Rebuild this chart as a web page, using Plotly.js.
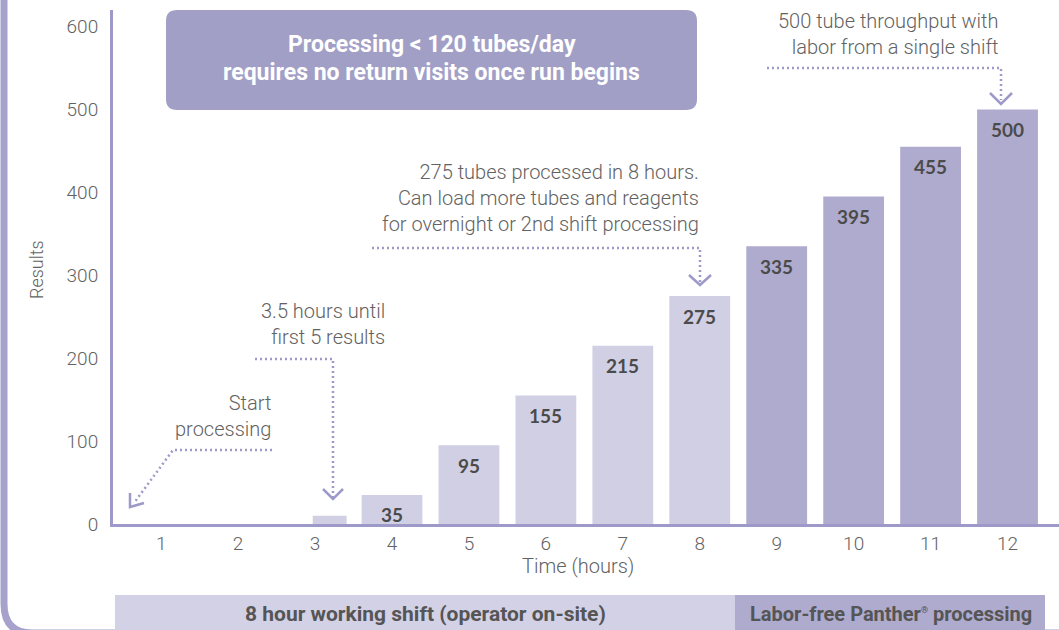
<!DOCTYPE html>
<html>
<head>
<meta charset="utf-8">
<script src="https://cdn.plot.ly/plotly-3.0.1.min.js"></script>
<style>html,body{margin:0;padding:0;background:#fff;}#chart{width:1059px;height:630px;}</style>
</head>
<body>
<div id="chart"></div>
<script>
// ---- data ----
const hourTicks = [1,2,3,4,5,6,7,8,9,10,11,12];
const shiftHours = [4,5,6,7,8];
const shiftResults = [35,95,155,215,275];
const laborFreeHours = [9,10,11,12];
const laborFreeResults = [335,395,455,500];
const firstResultHour = [3.19];
const firstResultValue = [10];
const yTicks = [0,100,200,300,400,500,600];

// ---- geometry helpers (pixel -> paper) ----
const W = 1059, H = 630;
const L = 113, R = 1059, T = 10, B = 524;
const px = x => (x - L) / (R - L);
const py = y => (B - y) / (B - T);
const P = (x, y) => px(x).toFixed(5) + ',' + py(y).toFixed(5);

const purple = '#9d99c9';
const lightBar = '#d1cfe4';
const darkBar = '#afabcf';
const greyText = '#626262';
const labelText = '#4b4b4b';

const barW = 0.79;
const traces = [
  {type:'bar', x: shiftHours, y: shiftResults, width: barW, marker:{color: lightBar, line:{width:0}}, hoverinfo:'skip'},
  {type:'bar', x: laborFreeHours, y: laborFreeResults, width: barW, marker:{color: darkBar, line:{width:0}}, hoverinfo:'skip'},
  {type:'bar', x: firstResultHour, y: firstResultValue, width: 0.44, marker:{color: lightBar, line:{width:0}}, hoverinfo:'skip'}
];

// rounded rectangle path in pixels
function roundRect(x0, y0, x1, y1, r) {
  return 'M' + P(x0 + r, y0) + ' L' + P(x1 - r, y0) + ' Q' + P(x1, y0) + ' ' + P(x1, y0 + r) +
    ' L' + P(x1, y1 - r) + ' Q' + P(x1, y1) + ' ' + P(x1 - r, y1) +
    ' L' + P(x0 + r, y1) + ' Q' + P(x0, y1) + ' ' + P(x0, y1 - r) +
    ' L' + P(x0, y0 + r) + ' Q' + P(x0, y0) + ' ' + P(x0 + r, y0) + ' Z';
}
function dotted(pts) {
  return {type:'path', xref:'paper', yref:'paper', layer:'above',
    path: 'M' + pts.map(p => P(p[0], p[1])).join(' L'),
    line:{color: purple, width: 2.5, dash:'2px,3px'}};
}
function chevron(pts) {
  return {type:'path', xref:'paper', yref:'paper', layer:'above',
    path: 'M' + pts.map(p => P(p[0], p[1])).join(' L'),
    line:{color: purple, width: 2.5}};
}

const shapes = [
  // outer frame on the left
  {type:'path', xref:'paper', yref:'paper', layer:'below',
   path: 'M' + P(4, -10) + ' L' + P(4, 604) + ' Q' + P(4, 633) + ' ' + P(32, 633) + ' L' + P(1100, 633),
   line:{color:'#a6a2cc', width:7}},
  // title box
  {type:'path', xref:'paper', yref:'paper', layer:'below', path: roundRect(166, 10, 697, 110, 11),
   fillcolor:'#a29fc6', line:{width:0}},
  // bottom bands
  {type:'rect', xref:'paper', yref:'paper', layer:'above', x0:px(115), x1:px(735), y0:py(640), y1:py(595),
   fillcolor:'#d3d1e5', line:{width:0}},
  {type:'rect', xref:'paper', yref:'paper', layer:'above', x0:px(735), x1:px(1045), y0:py(640), y1:py(595),
   fillcolor:'#afabcf', line:{width:0}},
  // arrows
  dotted([[272,450],[173,450],[134,503]]),
  chevron([[130,493],[130,507],[144,503]]),
  dotted([[255,359],[333,359],[333,497]]),
  chevron([[323,489],[333,499],[343,489]]),
  dotted([[372,248],[700,248],[700,282]]),
  chevron([[689,275],[700,285],[711,275]]),
  dotted([[767,68],[1001,68],[1001,100]]),
  chevron([[990,93],[1001,104],[1012,93]])
];

const annFont = {family:'Roboto, "Open Sans", sans-serif', size:20, color:greyText, weight:300};
const annotations = [];
// bar value labels
const allHours = shiftHours.concat(laborFreeHours);
const allResults = shiftResults.concat(laborFreeResults);
allHours.forEach((h, i) => {
  const v = allResults[i];
  annotations.push({x:h, y:v, xref:'x', yref:'y', text:String(v), showarrow:false,
    yanchor:'middle', xanchor:'center', yshift:-20,
    font:{family:'Lato, "Open Sans", sans-serif', size:19, color:labelText, weight:'bold'}});
});
function note(text, xr, yc) {
  annotations.push({xref:'paper', yref:'paper', x:px(xr), y:py(yc), xanchor:'right', yanchor:'middle',
    align:'right', text:text, showarrow:false, font:annFont});
}
note('Start<br>processing', 273, 416);
note('3.5 hours until<br>first 5 results', 387, 324);
note('275 tubes processed in 8 hours.<br>Can load more tubes and reagents<br>for overnight or 2nd shift processing', 701, 198);
note('500 tube throughput with<br>labor from a single shift', 1001, 34);
// box text (two lines)
const boxFont = {family:'Roboto, sans-serif', size:23, color:'#ffffff', weight:'bold'};
annotations.push({xref:'paper', yref:'paper', x:px(432), y:py(45), xanchor:'center', yanchor:'middle',
  text:'Processing &lt; 120 tubes/day', showarrow:false, font:boxFont});
annotations.push({xref:'paper', yref:'paper', x:px(431), y:py(72), xanchor:'center', yanchor:'middle',
  text:'requires no return visits once run begins', showarrow:false, font:boxFont});
// band text
annotations.push({xref:'paper', yref:'paper', x:px(425), y:py(614), xanchor:'center', yanchor:'middle',
  text:'8 hour working shift (operator on-site)', showarrow:false,
  font:{family:'Roboto, sans-serif', size:21, color:'#555555', weight:'bold'}});
annotations.push({xref:'paper', yref:'paper', x:px(891), y:py(614), xanchor:'center', yanchor:'middle',
  text:'Labor-free Panther<sup><span style="font-size:9px">®</span></sup> processing', showarrow:false,
  font:{family:'Roboto, sans-serif', size:20, color:'#555555', weight:'bold'}});
// axis titles
annotations.push({xref:'paper', yref:'paper', x:px(578), y:py(566), xanchor:'center', yanchor:'middle',
  text:'Time (hours)', showarrow:false, font:annFont});
annotations.push({xref:'paper', yref:'paper', x:px(36), y:py(270), xanchor:'center', yanchor:'middle',
  text:'Results', textangle:-90, showarrow:false, font:{family:'Roboto, sans-serif', size:18, color:greyText, weight:300}});

const layout = {
  width: W, height: H,
  margin: {l: L, r: W - R, t: T, b: H - B},
  paper_bgcolor:'#ffffff', plot_bgcolor:'#ffffff',
  showlegend:false, barmode:'overlay', hovermode:false,
  xaxis: {type:'linear', range:[0.374, 12.669], tickvals: hourTicks, ticktext: hourTicks.map(String),
    showline:true, linecolor:purple, linewidth:3, showgrid:false, zeroline:false,
    ticks:'', tickfont:{family:'Roboto, sans-serif', size:19, color:greyText, weight:300}},
  yaxis: {range:[0, 620], tickvals: yTicks, showline:true, linecolor:purple, linewidth:3,
    showgrid:false, zeroline:false, ticks:'outside', ticklen:8, tickcolor:'rgba(0,0,0,0)',
    tickfont:{family:'Roboto, sans-serif', size:19, color:greyText, weight:300}},
  shapes: shapes,
  annotations: annotations
};
Plotly.newPlot('chart', traces, layout, {staticPlot:true, displayModeBar:false});
</script>
</body>
</html>
